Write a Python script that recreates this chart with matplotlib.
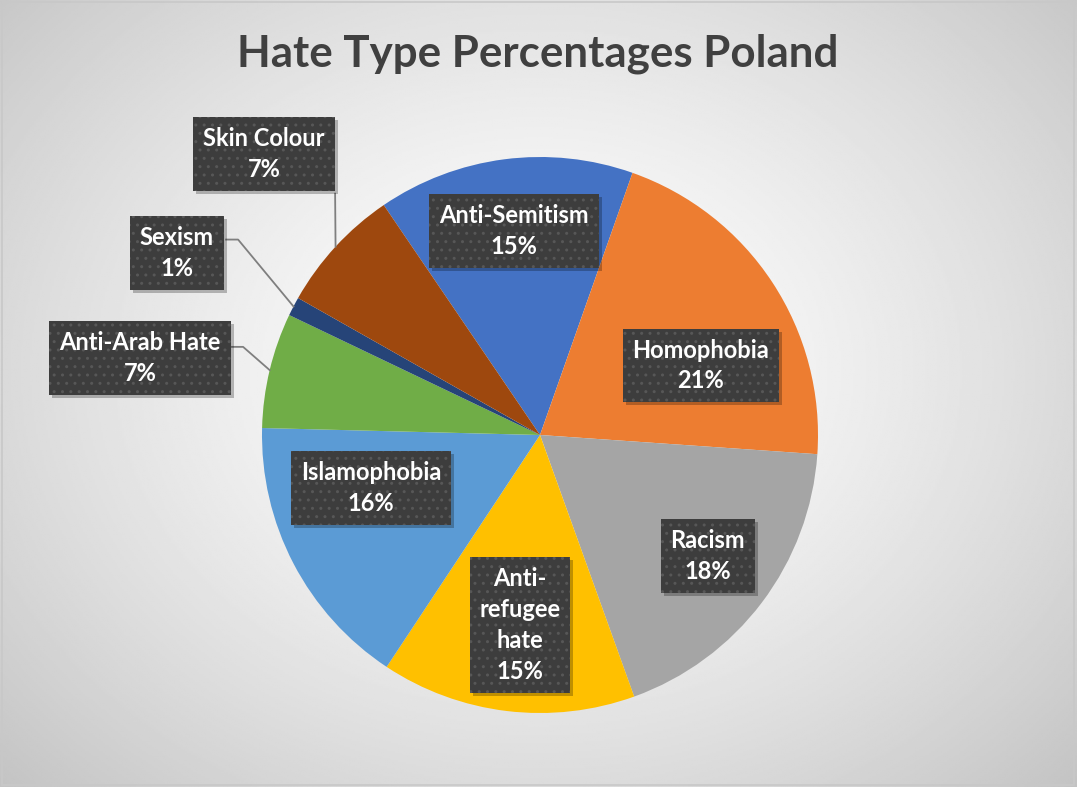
import numpy as np
import matplotlib
matplotlib.use('Agg')
import matplotlib.pyplot as plt
from matplotlib.patches import Rectangle

categories = ['Anti-Semitism', 'Homophobia', 'Racism', 'Anti-\nrefugee\nhate',
              'Islamophobia', 'Anti-Arab Hate', 'Sexism', 'Skin Colour']
values = [14.9, 20.7, 18.4, 14.8, 16.1, 6.7, 1.1, 7.3]
colors = ['#4472C4', '#ED7D31', '#A5A5A5', '#FFC000',
          '#5B9BD5', '#70AD47', '#264478', '#9E480E']

# label box centres (pie data coords)
label_pos = [(-0.094, 0.734), (0.579, 0.250), (0.604, -0.435), (-0.072, -0.683),
             (-0.608, -0.191), (-1.439, 0.277), (-1.306, 0.655), (-0.993, 1.011)]
# leader line end points at the label side
leader_end = {5: [(-1.068, 0.317), (-1.108, 0.317)],
              6: [(-1.086, 0.703), (-1.129, 0.703)],
              7: [(-0.737, 0.868)]}

plt.rcParams['font.family'] = ['Lato', 'DejaVu Sans']

fig = plt.figure(figsize=(10.77, 7.87), dpi=100)

# radial gradient background
bg = fig.add_axes([0, 0, 1, 1])
yy, xx = np.mgrid[0:1:400j, 0:1:550j]
d = np.sqrt(((xx - 0.5) / 0.5) ** 2 + ((yy - 0.47) / 0.55) ** 2) / np.sqrt(2)
g = 1 - 0.24 * np.clip(d, 0, 1) ** 1.4
bg.imshow(g, cmap='gray', vmin=0, vmax=1, extent=[0, 1, 0, 1], aspect='auto')
bg.axis('off')
fig.patches.append(Rectangle((0.002, 0.002), 0.995, 0.995, transform=fig.transFigure,
                             fill=False, edgecolor='#c8c8c8', linewidth=1.2))

fig.text(0.499, 0.932, 'Hate Type Percentages Poland', ha='center', va='center',
         fontsize=31.6, fontweight='bold', color='#404040')

ax = fig.add_axes([262 / 1077, (787 - 435 - 278) / 787, 556 / 1077, 556 / 787])
wedges, _ = ax.pie(values, colors=colors, startangle=124.2, counterclock=False,
                   radius=1, wedgeprops=dict(linewidth=0))
ax.set_xlim(-1, 1)
ax.set_ylim(-1, 1)
ax.set_aspect('equal')
ax.axis('off')

total = sum(values)
labels = []
for i, (w, name, v) in enumerate(zip(wedges, categories, values)):
    txt = f'{name}\n{v / total * 100:.0f}%'
    x, y = label_pos[i]
    if i in leader_end:
        mid = np.deg2rad((w.theta1 + w.theta2) / 2)
        pts = [(np.cos(mid), np.sin(mid))] + leader_end[i]
        ax.plot([p[0] for p in pts], [p[1] for p in pts], color='#7f7f7f',
                linewidth=1.3, clip_on=False, zorder=3)
    t = ax.text(x, y, txt, ha='center', va='center', fontsize=17, fontweight='bold',
                color='white', linespacing=1.42, zorder=5,
                bbox=dict(boxstyle='square,pad=0.42', linewidth=0, facecolor='#3d3d3d',
                          edgecolor='#575757', hatch='..'))
    labels.append(t)

# drop shadows behind the label boxes
fig.canvas.draw()
for t in labels:
    bb = t.get_bbox_patch().get_window_extent()
    fig.patches.append(Rectangle((bb.x0 + 3, bb.y0 - 3), bb.width, bb.height,
                                 transform=None, facecolor=(0, 0, 0, 0.25),
                                 linewidth=0, zorder=4))
    fig.patches[-1].set_figure(fig)
# keep label boxes above the shadows
for t in labels:
    t.remove()
    fig.texts.append(t)
    t.set_transform(ax.transData)
    t.set_figure(fig)

fig.savefig('out.png', dpi=100)
